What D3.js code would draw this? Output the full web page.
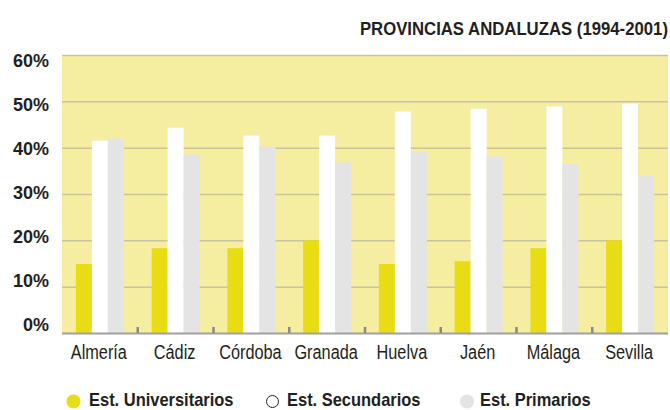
<!DOCTYPE html>
<html>
<head>
<meta charset="utf-8">
<script src="https://cdn.jsdelivr.net/npm/d3@7"></script>
<style>
  body { margin: 0; background: #ffffff; }
  svg { display: block; }
  text { fill: #231f20; font-family: 'Liberation Sans', Arial, sans-serif; }
</style>
</head>
<body>
<div id="chart"></div>
<script>
// Data (percent)
var categories = ["Almería", "Cádiz", "Córdoba", "Granada", "Huelva", "Jaén", "Málaga", "Sevilla"];
var universitarios = [14.9, 18.3, 18.3, 20.0, 14.9, 15.5, 18.3, 20.0];
var secundarios = [41.5, 44.3, 42.6, 42.6, 47.8, 48.4, 48.9, 49.5];
var primarios = [42.0, 38.5, 40.2, 36.8, 39.1, 38.1, 36.5, 33.9];
var seriesNames = ["Est. Universitarios", "Est. Secundarios", "Est. Primarios"];
var yTicks = [0, 10, 20, 30, 40, 50, 60];
var title = "PROVINCIAS ANDALUZAS (1994-2001)";

var width = 670, height = 410;
var margin = {top: 55, right: 2, bottom: 77, left: 62};
var colors = {"Est. Universitarios": "#e8dc14", "Est. Secundarios": "#ffffff", "Est. Primarios": "#e4e4e4"};

var svg = d3.select("#chart").append("svg")
    .attr("width", width)
    .attr("height", height);

// no condensed font available, so squeeze horizontally
function condensed(sel, sx) {
    return sel.attr("transform", function() {
        var t = d3.select(this);
        return "translate(" + t.attr("data-x") + "," + t.attr("data-y") + ") scale(" + sx + ",1)";
    });
}

// scales
var x = d3.scaleBand()
    .domain(categories)
    .range([margin.left, width - margin.right]);

var groupWidth = 48;
var xInner = d3.scaleBand()
    .domain(seriesNames)
    .range([0, groupWidth]);

var y = d3.scaleLinear()
    .domain([0, 60])
    .range([height - margin.bottom, margin.top]);

// tick labels sit a bit off the gridlines in the original
var yLabel = d3.scaleLinear()
    .domain([0, 60])
    .range([325, 61]);

// plot background
svg.append("rect")
    .attr("x", margin.left)
    .attr("y", y(60))
    .attr("width", width - margin.left - margin.right)
    .attr("height", y(0) - y(60))
    .attr("fill", "#f5eea0");

// gridlines
svg.append("g")
    .attr("transform", "translate(" + margin.left + ",0)")
    .call(d3.axisLeft(y).tickValues(yTicks.slice(1)).tickSize(-(width - margin.left - margin.right)).tickFormat(""))
    .call(function(g) { g.select(".domain").remove(); })
    .call(function(g) {
        g.selectAll(".tick line").attr("stroke", "#c9c4a0").attr("stroke-width", 1.5);
    });

// y labels
svg.append("g")
    .attr("transform", "translate(49,0)")
    .call(d3.axisLeft(yLabel).tickValues(yTicks).tickSize(0).tickPadding(0).tickFormat(function(d) { return d + "%"; }))
    .call(function(g) { g.select(".domain").remove(); })
    .call(function(g) {
        g.selectAll(".tick text")
            .attr("fill", "#231f20")
            .style("font-family", "'Liberation Sans', Arial, sans-serif")
            .style("font-size", "18px")
            .style("font-weight", "bold");
    });

// bars
var rows = categories.map(function(c, i) {
    return {cat: c, values: [
        {key: seriesNames[0], v: universitarios[i]},
        {key: seriesNames[1], v: secundarios[i]},
        {key: seriesNames[2], v: primarios[i]}
    ]};
});

var groups = svg.append("g").selectAll("g")
    .data(rows)
    .join("g")
    .attr("transform", function(d) { return "translate(" + (x(d.cat) + (x.bandwidth() - groupWidth) / 2) + ",0)"; });

groups.selectAll("rect")
    .data(function(d) { return d.values; })
    .join("rect")
    .attr("x", function(d) { return xInner(d.key); })
    .attr("y", function(d) { return y(d.v); })
    .attr("width", xInner.bandwidth())
    .attr("height", function(d) { return y(0) - y(d.v); })
    .attr("fill", function(d) { return colors[d.key]; });

// baseline
svg.append("line")
    .attr("x1", margin.left)
    .attr("x2", width - margin.right)
    .attr("y1", y(0) + 0.5)
    .attr("y2", y(0) + 0.5)
    .attr("stroke", "#a0a0a0")
    .attr("stroke-width", 2);

// small separators between groups
svg.append("g").selectAll("line")
    .data(categories.slice(1))
    .join("line")
    .attr("x1", function(d) { return x(d); })
    .attr("x2", function(d) { return x(d); })
    .attr("y1", y(0))
    .attr("y2", y(0) - 6)
    .attr("stroke", "#888888")
    .attr("stroke-width", 2.5);

// x labels
svg.append("g").selectAll("text")
    .data(categories)
    .join("text")
    .attr("data-x", function(d) { return x(d) + x.bandwidth() / 2 - 1; })
    .attr("data-y", 359)
    .attr("text-anchor", "middle")
    .style("font-size", "19.5px")
    .text(function(d) { return d; })
    .call(condensed, 0.835);

// title
svg.append("text")
    .attr("data-x", 668)
    .attr("data-y", 35)
    .attr("text-anchor", "end")
    .style("font-size", "18px")
    .style("font-weight", "bold")
    .text(title)
    .call(condensed, 0.93);

// legend
var legendX = [89, 287, 480];
var legend = svg.append("g").selectAll("g")
    .data(seriesNames)
    .join("g")
    .attr("transform", function(d, i) { return "translate(" + legendX[i] + ",0)"; });

legend.append("circle")
    .attr("cx", function(d, i) { return [-15.5, -14.5, -13][i]; })
    .attr("cy", 401.5)
    .attr("r", function(d, i) { return i === 1 ? 6 : 7; })
    .attr("fill", function(d) { return colors[d]; })
    .attr("stroke", function(d, i) { return i === 1 ? "#231f20" : "none"; })
    .attr("stroke-width", 1);

legend.append("text")
    .attr("data-x", 0)
    .attr("data-y", 405.7)
    .style("font-size", "18.5px")
    .style("font-weight", "bold")
    .text(function(d) { return d; })
    .call(condensed, 0.89);
</script>
</body>
</html>
